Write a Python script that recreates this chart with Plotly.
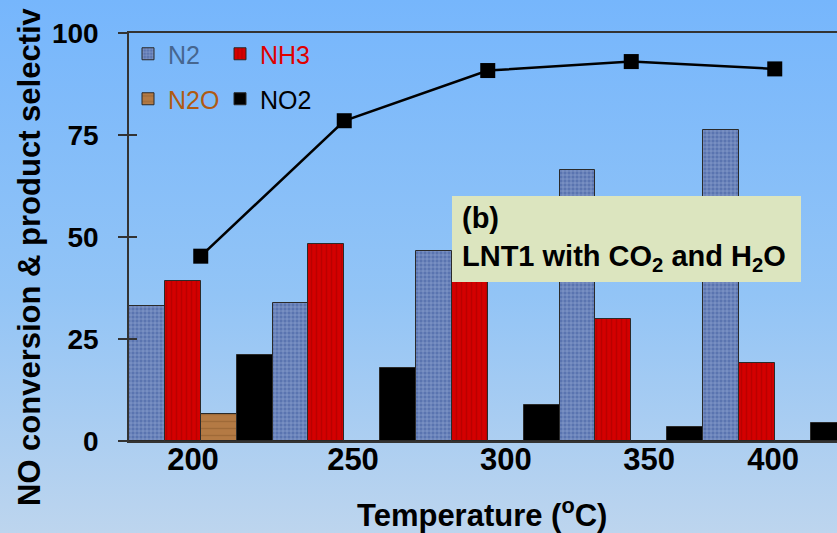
import base64
import plotly.graph_objects as go

# Temperature categories and measured values (%)
temperatures = ["200", "250", "300", "350", "400"]
n2_sel = [33.0, 33.8, 46.5, 66.5, 76.2]
nh3_sel = [39.3, 48.2, 43.0, 29.9, 19.1]
n2o_sel = [6.6, 0, 0, 0, 0]
no2_sel = [21.0, 18.0, 8.9, 3.5, 4.4]
no_conversion = [45.3, 78.5, 90.8, 93.0, 91.2]
y_ticks = [0, 25, 50, 75, 100]

FONT = "Arial, Liberation Sans, sans-serif"
W, H = 837, 533
ML, MR, MT, MB = 129, 0, 33, 92
PW, PH = W - ML - MR, H - MT - MB

xs = list(range(len(temperatures)))
# tick labels sit slightly off the group centres
label_shift = [-0.054, 0.061, 0.127, 0.124, -0.012]

outline = dict(color="#2a2a2a", width=1)

fig = go.Figure()
fig.add_trace(go.Bar(
    x=xs, y=n2_sel, name="<span style='color:#46668f'>N2</span>", legend="legend",
    marker=dict(color="#5a74b0", line=outline,
                pattern=dict(shape="+", bgcolor="#5a74b0", fgcolor="#c6d6f0", size=4, solidity=0.3)),
))
fig.add_trace(go.Bar(
    x=xs, y=nh3_sel, name="<span style='color:#e00000'>NH3</span>", legend="legend",
    marker=dict(color="#d40000", line=outline,
                pattern=dict(shape="|", bgcolor="#d40000", fgcolor="#a00000", size=5, solidity=0.3)),
))
fig.add_trace(go.Bar(
    x=xs, y=n2o_sel, name="<span style='color:#b05a12'>N2O</span>", legend="legend2",
    marker=dict(color="#b47a44", line=outline,
                pattern=dict(shape="-", bgcolor="#b47a44", fgcolor="#8a5a2c", size=7, solidity=0.2)),
))
fig.add_trace(go.Bar(
    x=xs, y=no2_sel, name="NO2", legend="legend2",
    marker=dict(color="#000000", line=outline),
))
fig.add_trace(go.Scatter(
    x=xs, y=no_conversion, mode="lines+markers", showlegend=False,
    line=dict(color="#000000", width=2.5),
    marker=dict(symbol="square", size=15, color="#000000"),
))
# invisible carrier for the crossing tick marks
fig.add_trace(go.Scatter(x=[0], y=[0], yaxis="y2", mode="markers",
                         marker=dict(opacity=0), showlegend=False, hoverinfo="skip"))

# soft vertical gradient behind the whole figure
svg = (
    f'<svg xmlns="http://www.w3.org/2000/svg" width="{W}" height="{H}" viewBox="0 0 {W} {H}" '
    'preserveAspectRatio="none"><defs><linearGradient id="g" x1="0" y1="0" x2="0" y2="1">'
    '<stop offset="0" stop-color="#76b6fc"/><stop offset="0.55" stop-color="#92c4f6"/>'
    '<stop offset="1" stop-color="#bdd5ee"/></linearGradient></defs>'
    f'<rect width="{W}" height="{H}" fill="url(#g)"/></svg>'
)
bg_src = "data:image/svg+xml;base64," + base64.b64encode(svg.encode()).decode()

legend_common = dict(
    orientation="h", xanchor="left", yanchor="top", bgcolor="rgba(0,0,0,0)",
    font=dict(family=FONT, size=25, color="#000000"), entrywidth=47, itemwidth=30,
)

fig.update_layout(
    width=W, height=H,
    margin=dict(l=ML, r=MR, t=MT, b=MB, pad=0),
    paper_bgcolor="#a2cbf3", plot_bgcolor="rgba(0,0,0,0)",
    barmode="group", bargap=0, bargroupgap=0,
    images=[dict(source=bg_src, xref="paper", yref="paper",
                 x=-ML / PW, y=1 + MT / PH, sizex=W / PW, sizey=H / PH,
                 sizing="stretch", xanchor="left", yanchor="top", layer="below")],
    xaxis=dict(
        range=[-0.5, -0.5 + PW / 143.5],
        tickvals=[x + s for x, s in zip(xs, label_shift)], ticktext=temperatures,
        ticks="", showgrid=False, zeroline=False,
        showline=True, mirror=True, linecolor="#333333", linewidth=1.5,
        tickfont=dict(family=FONT, size=31, color="#000000", weight="bold"),
        ticklabelstandoff=-10,
    ),
    yaxis=dict(
        range=[0, 100], tickvals=y_ticks,
        ticks="outside", ticklen=9, tickwidth=1.5, tickcolor="#333333",
        showgrid=False, zeroline=False,
        showline=True, linecolor="#333333", linewidth=1.5,
        tickfont=dict(family=FONT, size=28, color="#000000", weight="bold"),
        ticklabelstandoff=14,
    ),
    yaxis2=dict(
        range=[0, 100], overlaying="y", side="left", anchor="x",
        tickvals=y_ticks[1:-1], ticks="inside", ticklen=8, tickwidth=1.5, tickcolor="#333333",
        showticklabels=False, showgrid=False, zeroline=False, showline=False,
    ),
    legend=dict(legend_common, x=(128 - ML) / PW, y=(441 - 31) / PH),
    legend2=dict(legend_common, x=(128 - ML) / PW, y=(441 - 76) / PH),
    annotations=[
        dict(text="NO conversion &amp; product selectiv", textangle=-90,
             xref="paper", yref="paper", x=(29 - ML) / PW, y=(441 - 257) / PH,
             xanchor="center", yanchor="middle", showarrow=False,
             font=dict(family=FONT, size=31, color="#000000", weight="bold")),
        dict(text="Temperature (<sup>o</sup>C)",
             xref="paper", yref="paper", x=(481.5 - ML) / PW, y=(441 - 513) / PH,
             xanchor="center", yanchor="middle", showarrow=False,
             font=dict(family=FONT, size=31, color="#000000", weight="bold")),
        dict(text="(b)<br>LNT1 with CO<sub>2</sub> and H<sub>2</sub>O",
             xref="paper", yref="paper", x=(451.7 - ML) / PW, y=(441 - 196) / PH,
             xanchor="left", yanchor="top", showarrow=False, align="left", valign="middle",
             width=329, height=66, borderpad=10, bgcolor="#dce5bf", borderwidth=0,
             font=dict(family=FONT, size=29, color="#000000", weight="bold")),
    ],
)

fig.write_html("out.html")
